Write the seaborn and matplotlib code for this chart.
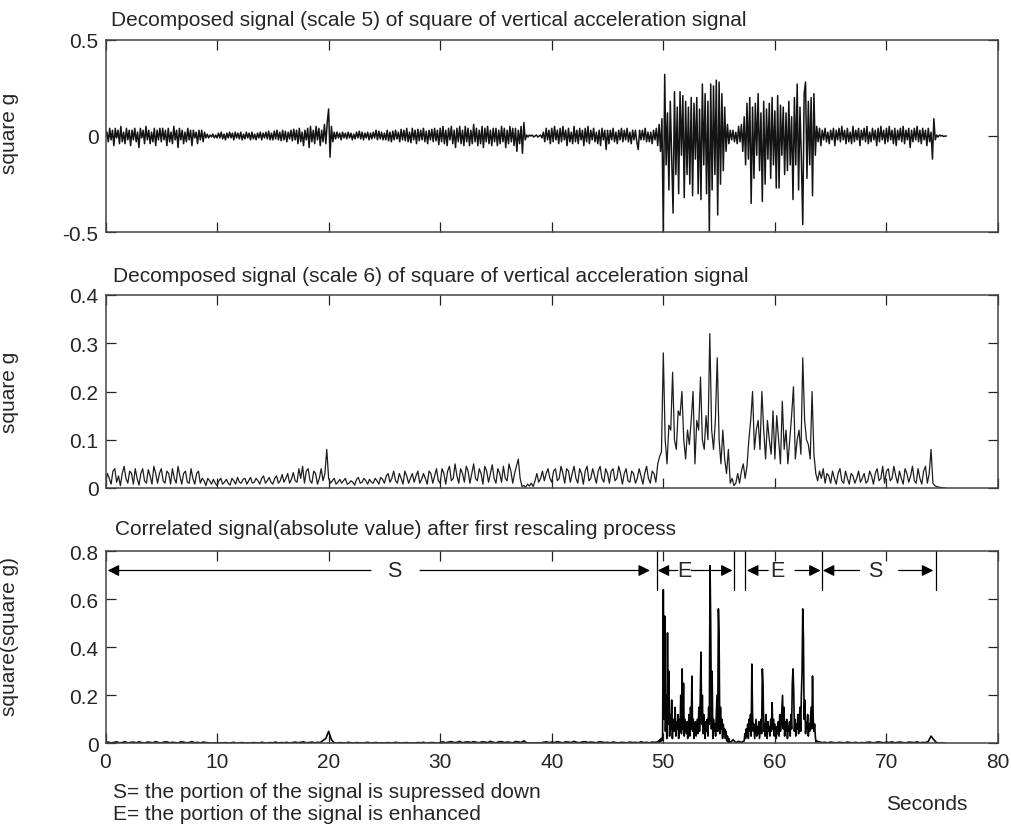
import numpy as np
import matplotlib
matplotlib.use("Agg")
import matplotlib.pyplot as plt
from matplotlib.ticker import FixedLocator, FixedFormatter
import seaborn as sns

# ---------------------------------------------------------------------------
# Scale-5 detail of the squared vertical acceleration (8 samples / s, 5 s blocks)
# ---------------------------------------------------------------------------
S5_RATE = 8
s5_00 = [0, .02, -.03, .04, -.02, .03, -.05, .04, -.01, .03, -.04, .05, -.03, .02, -.04, .04, -.02, .03, -.05, .03,
         -.02, .04, -.03, .02, -.06, .04, -.01, .03, -.04, .05, -.02, .03, -.04, .02, -.03, .04, -.05, .03, -.02, .04]
s5_05 = [-.03, .04, -.02, .03, -.05, .04, -.03, .02, -.04, .05, -.02, .03, -.06, .04, -.02, .03, -.04, .02, -.03, .04,
         -.02, .03, -.05, .03, -.01, .02, -.04, .03, -.02, .03, -.03, .02, -.01, .01, -.01, .005, -.005, .01, -.01, .005]
s5_10 = [-.01, .015, -.01, .02, -.015, .01, -.02, .015, -.01, .02, -.01, .015, -.02, .02, -.01, .015, -.015, .02, -.02, .01,
         -.015, .02, -.01, .015, -.02, .02, -.015, .01, -.02, .015, -.01, .02, -.02, .015, -.01, .02, -.015, .025, -.02, .015]
s5_15 = [-.02, .025, -.015, .03, -.02, .02, -.025, .03, -.02, .025, -.03, .02, -.015, .03, -.025, .035, -.02, .03, -.04, .04,
         -.03, .02, -.05, .03, -.02, .04, -.06, .05, -.03, .03, -.04, .05, -.02, .04, -.05, .03, -.03, .06, -.04, .07]
s5_20 = [.14, -.11, .05, -.03, .02, -.015, .02, -.01, .015, -.02, .02, -.01, .015, -.015, .02, -.01, .015, -.02, .01, -.015,
         .02, -.01, .025, -.015, .02, -.02, .015, -.01, .02, -.02, .015, -.015, .02, -.01, .03, -.02, .025, -.015, .02, -.02]
s5_25 = [.015, -.02, .03, -.025, .02, -.03, .025, -.02, .03, -.015, .02, -.03, .035, -.02, .03, -.025, .04, -.03, .02, -.035,
         .04, -.02, .03, -.04, .035, -.025, .03, -.02, .04, -.03, .025, -.04, .03, -.02, .035, -.03, .04, -.025, .03, -.045]
s5_30 = [.04, -.03, .05, -.04, .03, -.05, .04, -.02, .05, -.04, .03, -.06, .04, -.03, .05, -.04, .03, -.05, .05, -.03,
         .04, -.05, .03, -.04, .06, -.03, .04, -.05, .03, -.04, .05, -.06, .04, -.03, .05, -.04, .03, -.05, .04, -.03]
s5_35 = [.04, -.05, .03, -.04, .05, -.03, .04, -.06, .03, -.04, .05, -.03, .04, -.05, .04, -.08, .03, -.04, .05, -.09,
         .07, -.02, .005, -.005, .005, 0, .005, -.005, 0, .005, -.005, 0, .005, -.01, .02, -.03, .04, -.02, .03, -.04]
s5_40 = [.04, -.03, .05, -.02, .03, -.04, .04, -.03, .05, -.02, .03, -.05, .04, -.03, .02, -.04, .05, -.03, .03, -.04,
         .04, -.02, .03, -.05, .04, -.03, .05, -.04, .03, -.02, .04, -.03, .02, -.04, .03, -.05, .04, -.02, .03, -.07]
s5_45 = [.03, -.04, .03, -.02, .04, -.03, .02, -.04, .03, -.02, .04, -.03, .03, -.02, .04, -.03, .02, -.04, .03, -.02,
         .03, -.03, -.07, .03, -.02, .03, -.02, .04, -.03, .02, -.03, .02, -.04, .03, -.02, .04, -.05, .06, -.08, .09]
s5_50 = [-.5, .32, -.15, .12, -.28, .18, -.1, -.4, .23, -.2, .15, -.3, .23, -.1, .21, -.32, .18, -.2, .15, -.25,
         .2, -.31, .17, -.12, .2, -.3, .14, -.33, .27, -.15, .22, -.3, .18, -.5, .27, -.28, .26, -.2, .29, -.41]
s5_55 = [.28, -.25, .22, -.18, .15, -.08, .06, -.04, .03, -.02, .03, -.03, .02, -.04, .05, -.03, .06, -.08, .1, -.15,
         .17, -.12, .2, -.35, .15, -.22, .17, -.1, .22, -.18, .12, -.34, .18, -.25, .14, -.12, .17, -.22, .2, -.15]
s5_60 = [.13, -.27, .21, -.27, .16, -.1, .15, -.2, .12, -.18, .18, -.15, .1, -.33, .2, -.15, .27, -.28, .15, -.12,
         -.46, .22, .28, -.22, .18, -.15, .2, -.31, .22, -.1, .05, -.03, .04, -.05, .03, -.02, .04, -.03, .02, -.04]
s5_65 = [.03, -.02, .04, -.05, .03, -.02, .04, -.03, .05, -.02, .03, -.04, .04, -.03, .02, -.04, .05, -.03, .03, -.02,
         .04, -.05, .03, -.02, .04, -.03, .05, -.04, .02, -.03, .04, -.02, .03, -.05, .04, -.03, .05, -.02, .03, -.04]
s5_70 = [.04, -.03, .05, -.02, .03, -.04, .04, -.05, .03, -.02, .04, -.03, .05, -.04, .03, -.02, .04, -.06, .03, -.03,
         .04, -.02, .05, -.03, .03, -.04, .04, -.02, .03, -.05, .04, -.03, .02, -.12, .09, -.02, .005, -.005, .005, 0,
         .003, -.003, 0, 0]
scale5_blocks = [s5_00, s5_05, s5_10, s5_15, s5_20, s5_25, s5_30, s5_35,
                 s5_40, s5_45, s5_50, s5_55, s5_60, s5_65, s5_70]

# ---------------------------------------------------------------------------
# Scale-6 detail (6 samples / s, 5 s blocks)
# ---------------------------------------------------------------------------
S6_RATE = 6
s6_00 = [.01, .03, .02, .008, .035, .04, .012, .025, .005, .03, .045, .02, .01, .035, .03,
         .008, .04, .02, .006, .03, .04, .015, .01, .038, .025, .008, .045, .03, .01, .03]
s6_05 = [.04, .015, .01, .035, .03, .008, .04, .02, .01, .045, .025, .008, .03, .035, .012,
         .01, .04, .02, .008, .03, .035, .01, .02, .015, .005, .02, .015, .008, .018, .01]
s6_10 = [.005, .015, .02, .008, .012, .018, .01, .006, .02, .015, .008, .022, .012, .01, .018,
         .02, .008, .015, .022, .01, .012, .02, .015, .008, .02, .025, .01, .015, .022, .012]
s6_15 = [.008, .02, .025, .01, .015, .028, .012, .02, .03, .01, .018, .032, .015, .012, .04,
         .02, .045, .01, .035, .04, .015, .01, .035, .03, .008, .02, .04, .015, .03, .08]
s6_20 = [.02, .01, .015, .02, .008, .012, .018, .01, .015, .02, .008, .01, .015, .012, .006,
         .018, .022, .01, .012, .02, .015, .008, .018, .012, .01, .02, .015, .008, .022, .018]
s6_25 = [.01, .025, .03, .012, .02, .035, .015, .01, .03, .02, .008, .035, .025, .01, .02,
         .03, .012, .025, .035, .01, .018, .03, .02, .008, .035, .03, .01, .025, .04, .015]
s6_30 = [.01, .04, .03, .008, .035, .045, .015, .02, .05, .025, .01, .04, .03, .012, .045,
         .035, .01, .03, .05, .02, .015, .04, .03, .008, .045, .035, .012, .03, .048, .02]
s6_35 = [.01, .04, .03, .012, .045, .02, .015, .05, .035, .01, .03, .045, .06, .02, .003,
         .005, .002, .008, .004, .01, .003, .015, .03, .012, .02, .035, .015, .03, .04, .02]
s6_40 = [.012, .035, .04, .015, .02, .045, .03, .01, .04, .035, .012, .03, .045, .02, .01,
         .04, .03, .008, .035, .045, .015, .02, .04, .025, .01, .035, .045, .02, .012, .04]
s6_45 = [.03, .01, .035, .04, .015, .02, .045, .03, .008, .03, .04, .015, .012, .035, .03,
         .01, .02, .04, .025, .008, .03, .045, .02, .01, .035, .03, .012, .05, .065, .075]
s6_50 = [.28, .1, .05, .13, .12, .24, .1, .08, .16, .15, .2, .1, .06, .12, .09,
         .14, .2, .05, .14, .12, .23, .1, .08, .15, .1, .32, .12, .08, .14, .27]
s6_55 = [.1, .05, .12, .06, .03, .08, .01, .02, .005, .01, .03, .01, .035, .05, .02,
         .045, .1, .14, .2, .08, .12, .14, .08, .2, .12, .06, .14, .1, .07, .16]
s6_60 = [.06, .15, .1, .05, .18, .08, .12, .05, .1, .15, .21, .06, .1, .12, .07,
         .27, .14, .1, .09, .06, .2, .07, .03, .015, .035, .02, .04, .01, .03, .025]
s6_65 = [.01, .035, .02, .008, .03, .04, .015, .01, .035, .02, .008, .03, .025, .01, .02,
         .035, .012, .02, .03, .01, .015, .035, .025, .008, .03, .04, .015, .02, .045, .01]
s6_70 = [.035, .04, .015, .02, .045, .025, .01, .035, .02, .008, .04, .03, .012, .025, .045,
         .015, .01, .04, .02, .008, .035, .045, .01, .03, .08, .01, .005, .003, .002, .001,
         .001, 0, 0]
scale6_blocks = [s6_00, s6_05, s6_10, s6_15, s6_20, s6_25, s6_30, s6_35,
                 s6_40, s6_45, s6_50, s6_55, s6_60, s6_65, s6_70]

# ---------------------------------------------------------------------------
# Correlated signal |.| after first rescaling: (start s, samples / s, values)
# ---------------------------------------------------------------------------
c_quiet_a = [.002, .005, .001, .004, .006, .002, .003, .007, .001, .004, .005, .002, .006, .003, .001, .005, .004, .002, .007, .003,
             .001, .005, .006, .002, .004, .003, .001, .006, .005, .002, .003, .007, .002, .004, .001, .005, .003, .002, .001, .002,
             .001, .002, .001, .003, .001, .002, .004, .001, .002, .003, .001, .002, .001, .003, .002, .001, .004, .002, .001, .003,
             .002, .005, .001, .003, .002, .004, .001, .003, .005, .002, .004, .006, .002, .003, .005, .002, .004, .003, .012, .02,
             .05, .015, .002, .001, .003, .002, .001, .004, .002, .001, .003, .002, .001, .002, .004, .001, .002, .003, .001, .002,
             .001, .003, .002, .001, .004, .002, .001, .002, .003, .001, .002, .001, .003, .002, .004, .001, .002, .003, .002, .001,
             .003, .006, .002, .005, .007, .003, .004, .008, .002, .005, .006, .003, .007, .004, .002, .006, .005, .003, .008, .004,
             .002, .006, .007, .003, .005, .004, .002, .007, .006, .003, .01, .002, .001, .002, .001, .002, .001, .004, .006, .003,
             .005, .003, .007, .004, .002, .006, .005, .003, .008, .004, .002, .006, .007, .003, .005, .004, .002, .006, .005, .003,
             .004, .002, .005, .003, .002, .004, .003, .002, .005, .003, .004, .002, .006, .003, .004, .002, .005, .004]
c_burst_a = [.005, .01, .003, .015, .008, .02, .01, .03, .64, .1, .53, .05, .2, .02, .46, .08,
             .3, .03, .12, .06, .18, .02, .1, .05, .08, .15, .03, .09, .06, .12, .02, .1,
             .05, .2, .04, .31, .06, .25, .03, .1, .07, .04, .09, .02, .08, .12, .03, .15,
             .06, .28, .05, .1, .02, .07, .09, .03, .06, .1, .04, .15, .05, .2, .38, .08,
             .2, .04, .12, .06, .02, .09, .05, .1, .03, .15, .08, .74, .5, .06, .3, .02,
             .1, .05, .08, .03, .12, .2, .05, .56, .45, .04, .15, .06, .1, .02, .08, .04,
             .06, .02, .05, .01, .03, .005, .02, .003]
c_gap = [.002, .015, .003, .008, .004]
c_burst_b = [.01, .04, .02, .06, .03, .08, .02, .1, .05, .12, .03, .33, .12, .05, .08, .02,
             .06, .1, .03, .07, .04, .09, .02, .06, .1, .04, .31, .25, .05, .08, .03, .12,
             .06, .02, .09, .05, .07, .03, .1, .05, .17, .06, .1, .03, .08, .05, .02, .07,
             .04, .09, .03, .12, .05, .08, .14, .2, .06, .15, .03, .09, .05, .1, .02, .07,
             .05, .09, .03, .12, .06, .25, .31, .22, .05, .1, .03, .08, .06, .12, .04, .09,
             .15, .05, .2, .3, .56, .43, .1, .18, .04, .09, .06, .12, .03, .08, .05, .1,
             .15, .06, .28, .1, .05, .08, .03, .005]
c_quiet_b = [.01, .005, .003, .004, .002, .005, .003, .002, .004, .003, .002, .005, .003, .002, .004, .001,
             .003, .002, .004, .005, .002, .003, .006, .004, .002, .005, .003, .006, .002, .004, .005, .003,
             .002, .005, .004, .003, .006, .002, .004, .003, .008, .03, .015, .002, .001, .001, 0]
corr_segments = [(0.0, 4, c_quiet_a), (49.5, 16, c_burst_a), (56.0, 4, c_gap),
                 (57.25, 16, c_burst_b), (63.75, 4, c_quiet_b)]

# Region markers on the correlated panel
S_E_labels = ["S", "E", "E", "S"]
region_bounds = [49.4, 56.3, 57.3, 64.2, 74.4]
arrow_level = 0.72

# Axis ticks
x_ticks = [0, 10, 20, 30, 40, 50, 60, 70, 80]
y1_ticks, y1_labels = [-0.5, 0, 0.5], ["-0.5", "0", "0.5"]
y2_ticks, y2_labels = [0, 0.1, 0.2, 0.3, 0.4], ["0", "0.1", "0.2", "0.3", "0.4"]
y3_ticks, y3_labels = [0, 0.2, 0.4, 0.6, 0.8], ["0", "0.2", "0.4", "0.6", "0.8"]

titles = ["Decomposed signal (scale 5) of square of vertical acceleration signal",
          "Decomposed signal (scale 6) of square of vertical acceleration signal",
          "Correlated signal(absolute value) after first rescaling process"]


def uniform_blocks(blocks, rate, block_len=5.0):
    t, v = [], []
    for k, vals in enumerate(blocks):
        t.append(k * block_len + np.arange(len(vals)) / rate)
        v.append(np.asarray(vals, float))
    return np.concatenate(t), np.concatenate(v)


def segmented(segments):
    t, v = [], []
    for start, rate, vals in segments:
        t.append(start + np.arange(len(vals)) / rate)
        v.append(np.asarray(vals, float))
    return np.concatenate(t), np.concatenate(v)


sns.set_style("ticks")
plt.rcParams["font.family"] = ["Liberation Sans", "DejaVu Sans"]
plt.rcParams["axes.unicode_minus"] = False

FS = 15
fig = plt.figure(figsize=(10.11, 8.29), dpi=100)
W, H = 1011, 829
left, width = 105.5 / W, 892.5 / W
panel_px = [(40.7, 233.3), (296.0, 489.0), (552.3, 744.3)]
axes = [fig.add_axes([left, 1 - b / H, width, (b - t) / H]) for t, b in panel_px]

t1, v1 = uniform_blocks(scale5_blocks, S5_RATE)
t2, v2 = uniform_blocks(scale6_blocks, S6_RATE)
t3, v3 = segmented(corr_segments)

line_kw = dict(estimator=None, sort=False, legend=False)
sns.lineplot(x=t1, y=v1, ax=axes[0], color="#141414", linewidth=1.1, **line_kw)
sns.lineplot(x=t2, y=v2, ax=axes[1], color="#1e1e1e", linewidth=0.9, **line_kw)
sns.lineplot(x=t3, y=v3, ax=axes[2], color="#050505", linewidth=1.2, **line_kw)

ylims = [(-0.5, 0.5), (0, 0.4), (0, 0.8)]
yticks = [(y1_ticks, y1_labels), (y2_ticks, y2_labels), (y3_ticks, y3_labels)]
ylabels = ["square g", "square g", "square(square g)"]
ylabel_y = [0.52, 0.5, 0.56]
title_x = [111, 113, 115]
title_y = [21, 277, 530]

for i, ax in enumerate(axes):
    ax.set_xlim(0, 80)
    ax.set_ylim(*ylims[i])
    ax.xaxis.set_major_locator(FixedLocator(x_ticks))
    ax.yaxis.set_major_locator(FixedLocator(yticks[i][0]))
    ax.yaxis.set_major_formatter(FixedFormatter(yticks[i][1]))
    if i < 2:
        ax.set_xticklabels([])
    else:
        ax.set_xticklabels([str(x) for x in x_ticks])
    ax.tick_params(direction="in", top=True, right=True, length=7, width=0.9,
                   color="#222222", labelsize=FS, pad=5)
    ax.tick_params(axis="x", pad=6)
    for sp in ax.spines.values():
        sp.set_visible(True)
        sp.set_color("#444444")
        sp.set_linewidth(1.1)
    ax.set_xlabel("")
    ax.set_ylabel(ylabels[i], fontsize=FS)
    ax.yaxis.set_label_coords((19 - 105.5) / 892.5, ylabel_y[i])
    fig.text(title_x[i] / W, 1 - title_y[i] / H, titles[i], fontsize=FS,
             ha="left", va="center")

# Region arrows on the correlated panel
ax3 = axes[2]
arrow_kw = dict(arrowstyle="-|>", color="black", lw=0.9, mutation_scale=17,
                shrinkA=0, shrinkB=0)
spans = [
    # (arrow tip, line start) pairs and label position for each region
    ((0.2, 23.8), (48.8, 28.2), 25.9),
    ((49.5, 51.3), (56.2, 52.5), 51.9),
    ((57.5, 59.4), (64.1, 61.8), 60.2),
    ((64.3, 67.6), (74.2, 71.1), 69.0),
]
for (lt, ls), (rt, rs), xl in spans:
    ax3.annotate("", xy=(lt, arrow_level), xytext=(ls, arrow_level), arrowprops=arrow_kw)
    ax3.annotate("", xy=(rt, arrow_level), xytext=(rs, arrow_level), arrowprops=arrow_kw)
for lab, (_, _, xl) in zip(S_E_labels, spans):
    ax3.text(xl, arrow_level, lab, fontsize=FS + 0.5, ha="center", va="center")
for xb in region_bounds:
    ax3.plot([xb, xb], [0.8, 0.64], color="black", lw=0.9)

fig.text(113 / W, 1 - 793 / H, "S= the portion of the signal is supressed down",
         fontsize=FS, ha="left", va="center")
fig.text(113 / W, 1 - 815 / H, "E= the portion of the signal is enhanced",
         fontsize=FS, ha="left", va="center")
fig.text(967 / W, 1 - 805 / H, "Seconds", fontsize=FS, ha="right", va="center")

fig.savefig("out.png", dpi=100)
